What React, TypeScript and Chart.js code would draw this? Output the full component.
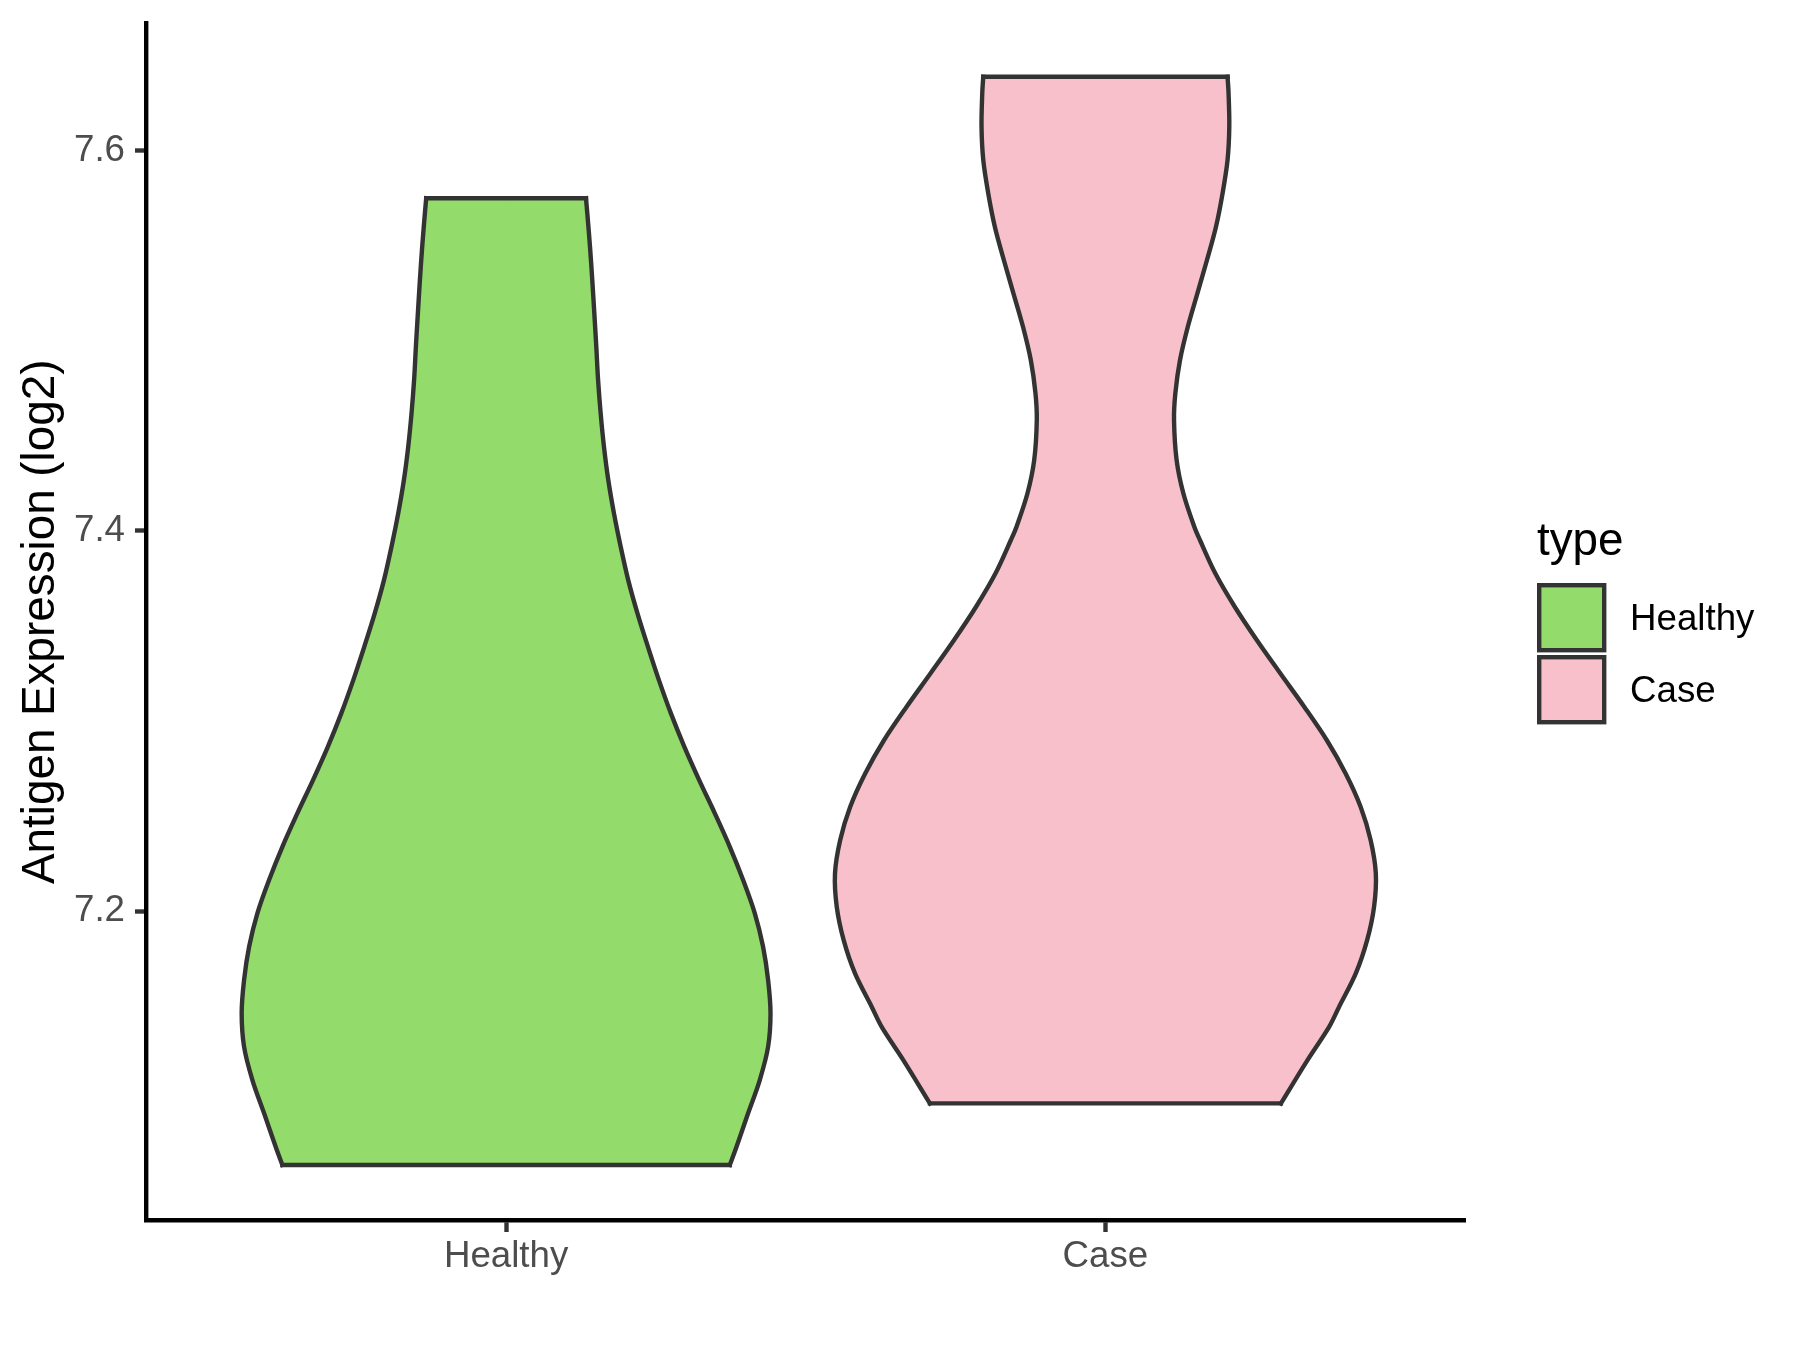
import React, { useEffect, useRef } from "react";
import { Chart, registerables } from "chart.js";

Chart.register(...registerables);

// ---- data ----
const categories = ["Healthy", "Case"];
const legendTitle = "type";
const yAxisTitle = "Antigen Expression (log2)";
const yTicks = [7.2, 7.4, 7.6];
const yMin = 7.0372;
const yMax = 7.6672;
const fillColors = ["#93DB6A", "#F8C0CB"];

// violin outlines: expression value (top -> bottom) and half width (in category units)
const healthyValues = [7.575, 7.5671, 7.5495, 7.532, 7.5145, 7.4969, 7.4794, 7.4618, 7.4443, 7.4268, 7.4092, 7.3917, 7.3741, 7.3566, 7.339, 7.3215, 7.304, 7.2864, 7.2689, 7.2514, 7.2338, 7.2163, 7.1988, 7.1812, 7.1637, 7.1462, 7.1286, 7.1111, 7.0936, 7.076, 7.0664];
const healthyHalfWidths = [0.1333, 0.1355, 0.14, 0.1438, 0.1472, 0.1505, 0.1535, 0.1578, 0.1633, 0.1705, 0.18, 0.1912, 0.2038, 0.2192, 0.2367, 0.255, 0.275, 0.2975, 0.3222, 0.3483, 0.3733, 0.3955, 0.415, 0.4288, 0.4372, 0.4412, 0.4372, 0.4233, 0.4038, 0.3845, 0.3733];

const caseValues = [7.6389, 7.6302, 7.6126, 7.5951, 7.5776, 7.56, 7.5425, 7.525, 7.5074, 7.4899, 7.4724, 7.4583, 7.4373, 7.4198, 7.4022, 7.3952, 7.3777, 7.3601, 7.3426, 7.3251, 7.3075, 7.29, 7.2724, 7.2549, 7.2374, 7.2198, 7.2023, 7.1847, 7.1672, 7.1497, 7.1391, 7.1216, 7.0988];
const caseHalfWidths = [0.2038, 0.2055, 0.2067, 0.2038, 0.1955, 0.1845, 0.1695, 0.1535, 0.1375, 0.1245, 0.1167, 0.1145, 0.1188, 0.13, 0.1483, 0.1577, 0.1833, 0.2158, 0.2525, 0.2917, 0.3317, 0.3692, 0.4008, 0.4258, 0.4425, 0.4512, 0.4483, 0.4367, 0.4178, 0.39, 0.3733, 0.3372, 0.2928];

const violinValues = [healthyValues, caseValues];
const violinHalfWidths = [healthyHalfWidths, caseHalfWidths];

const FONT = "'Liberation Sans', Arial, Helvetica, sans-serif";
const OUTLINE = "#333333";
const LINE_W = 4.4;

function buildDatasets() {
  const ds: any[] = [];
  categories.forEach((name, i) => {
    const c = i + 1;
    const vals = violinValues[i];
    const hw = violinHalfWidths[i];
    const last = vals.length - 1;
    // the two curved sides, filled towards the centre line
    [1, -1].forEach((side) => {
      ds.push({
        label: name,
        data: vals.map((v, k) => ({ x: c + side * hw[k], y: v })),
        indexAxis: "y",
        borderColor: OUTLINE,
        borderWidth: LINE_W,
        backgroundColor: fillColors[i],
        fill: { value: c - side * 0.002 },
        pointRadius: 0,
        pointHoverRadius: 0,
        tension: 0.33,
        borderJoinStyle: "round",
        borderCapStyle: "square",
      });
    });
    // flat trimmed ends (top = max, bottom = min)
    [0, last].forEach((k) => {
      ds.push({
        label: name,
        data: [
          { x: c - hw[k], y: vals[k] },
          { x: c + hw[k], y: vals[k] },
        ],
        indexAxis: "y",
        borderColor: OUTLINE,
        borderWidth: LINE_W,
        fill: false,
        pointRadius: 0,
        pointHoverRadius: 0,
        tension: 0,
        borderCapStyle: "square",
      });
    });
  });
  return ds;
}

const legendPlugin = {
  id: "ggLegend",
  afterDraw(chart: any) {
    const ctx = chart.ctx;
    const x0 = chart.chartArea.right + 72;
    ctx.save();
    ctx.fillStyle = "#000000";
    ctx.textAlign = "left";
    ctx.textBaseline = "alphabetic";
    ctx.font = `45.8px ${FONT}`;
    ctx.fillText(legendTitle, x0, 555);
    categories.forEach((name, i) => {
      const top = 585.2 + i * 72;
      ctx.fillStyle = fillColors[i];
      ctx.fillRect(x0 + 2.2, top, 65, 65);
      ctx.strokeStyle = OUTLINE;
      ctx.lineWidth = LINE_W;
      ctx.lineJoin = "miter";
      ctx.strokeRect(x0 + 2.2, top, 65, 65);
      ctx.fillStyle = "#000000";
      ctx.font = `36.7px ${FONT}`;
      ctx.fillText(name, x0 + 93, 630 + i * 72);
    });
    ctx.restore();
  },
};

export default function App() {
  const ref = useRef<HTMLCanvasElement | null>(null);
  useEffect(() => {
    document.body.style.margin = "0";
    const canvas = ref.current;
    if (!canvas) return;
    const chart = new Chart(canvas, {
      type: "line",
      data: { datasets: buildDatasets() },
      options: {
        responsive: false,
        maintainAspectRatio: false,
        devicePixelRatio: 1,
        animation: false,
        events: [],
        indexAxis: "y",
        layout: { padding: { left: 0, top: 23, right: 335, bottom: 0 } },
        plugins: {
          legend: { display: false },
          tooltip: { enabled: false },
          filler: { drawTime: "beforeDatasetsDraw" },
        },
        scales: {
          x: {
            type: "linear",
            position: "bottom",
            min: 0.4,
            max: 2.6,
            afterBuildTicks: (scale: any) => {
              scale.ticks = categories.map((_, i) => ({ value: i + 1 }));
            },
            afterFit: (scale: any) => {
              scale.height = 129.5;
              scale.paddingLeft = 0;
              scale.paddingRight = 0;
            },
            ticks: {
              callback: (v: any) => categories[Number(v) - 1] ?? "",
              color: "#4D4D4D",
              font: { size: 36.7, family: FONT, lineHeight: 1.2 },
              padding: 3,
              maxRotation: 0,
              autoSkip: false,
            },
            grid: {
              display: true,
              drawOnChartArea: false,
              drawTicks: true,
              tickLength: 11.5,
              tickColor: OUTLINE,
              tickWidth: LINE_W,
            },
            border: { display: true, color: "#000000", width: LINE_W },
          },
          y: {
            type: "linear",
            position: "left",
            min: yMin,
            max: yMax,
            afterBuildTicks: (scale: any) => {
              scale.ticks = yTicks.map((v) => ({ value: v }));
            },
            afterFit: (scale: any) => {
              scale.width = 146.5;
              scale.paddingTop = 0;
              scale.paddingBottom = 0;
            },
            ticks: {
              callback: (v: any) => Number(v).toFixed(1),
              color: "#4D4D4D",
              font: { size: 36.7, family: FONT },
              padding: 10,
              autoSkip: false,
            },
            grid: {
              display: true,
              drawOnChartArea: false,
              drawTicks: true,
              tickLength: 11.5,
              tickColor: OUTLINE,
              tickWidth: LINE_W,
            },
            border: { display: true, color: "#000000", width: LINE_W },
            title: {
              display: true,
              text: yAxisTitle,
              color: "#000000",
              font: { size: 45.8, family: FONT, lineHeight: 1.2 },
              padding: { top: 13.5, bottom: 0 },
            },
          },
        },
      } as any,
      plugins: [legendPlugin],
    });
    return () => chart.destroy();
  }, []);
  return (
    <div style={{ width: 1800, height: 1350, background: "#ffffff" }}>
      <canvas ref={ref} width={1800} height={1350} style={{ display: "block", width: 1800, height: 1350 }} />
    </div>
  );
}
